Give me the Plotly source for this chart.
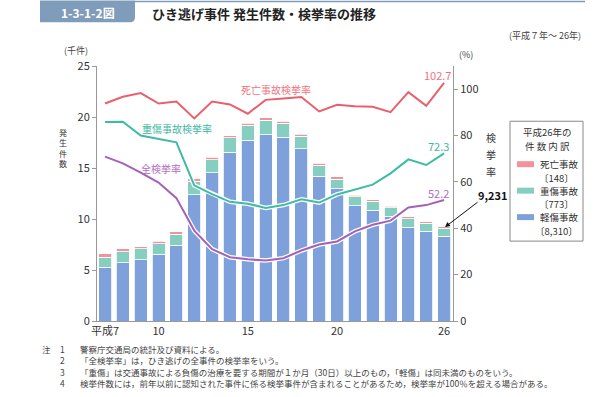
import plotly.graph_objects as go

# ---- data (thousands of cases / %) ----
years = list(range(7, 27))
minor = [5.27, 5.72, 6.02, 6.55, 7.42, 12.40, 14.52, 16.55, 17.70, 18.25,
         18.00, 16.88, 14.20, 12.98, 11.30, 10.88, 10.27, 9.20, 8.78, 8.310]
serious = [1.00, 1.09, 1.06, 1.00, 1.07, 1.29, 1.29, 1.40, 1.47, 1.42,
           1.38, 1.23, 1.07, 0.93, 0.87, 0.87, 0.83, 0.84, 0.78, 0.773]
fatal = [0.32, 0.25, 0.22, 0.28, 0.28, 0.28, 0.25, 0.21, 0.22, 0.24,
         0.21, 0.21, 0.22, 0.22, 0.17, 0.16, 0.17, 0.16, 0.16, 0.148]
rate_fatal = [93.8, 96.7, 98.3, 93.8, 94.7, 87.4, 94.7, 93.4, 89.4, 95.4,
              96.0, 96.6, 90.4, 93.3, 92.6, 92.4, 90.1, 98.7, 92.8, 102.7]
rate_serious = [85.8, 86.0, 80.0, 78.6, 77.1, 58.5, 54.7, 51.4, 50.6, 48.8,
                50.0, 52.5, 51.1, 54.6, 56.7, 58.8, 63.7, 69.7, 67.3, 72.3]
rate_all = [70.9, 68.0, 64.0, 59.7, 53.0, 39.0, 31.0, 27.5, 26.6, 26.1,
            27.1, 30.4, 33.0, 34.3, 38.7, 41.5, 43.3, 49.0, 50.0, 52.2]
xtick_vals = [7, 10, 15, 20, 26]
xtick_text = ["平成7", "10", "15", "20", "26"]
ytick_left = [0, 5, 10, 15, 20, 25]
ytick_right = [0, 20, 40, 60, 80, 100]

C_BLUE = "#7fa1db"
C_TEAL = "#86cfc0"
C_PINK = "#f2939b"
L_RED = "#e9606d"
L_TEAL = "#3dbba4"
L_PURPLE = "#a461b8"
FONT = "Noto Sans CJK JP"

W, H = 600, 397
PL, PR, PT, PB = 97, 453, 65.7, 321.0


def px(x):
    return (x - PL) / (PR - PL)


def py(y):
    return (PB - y) / (PB - PT)


fig = go.Figure()
for name, vals, col in [("軽傷事故", minor, C_BLUE), ("重傷事故", serious, C_TEAL),
                        ("死亡事故", fatal, C_PINK)]:
    fig.add_trace(go.Bar(x=years, y=vals, name=name, marker_color=col,
                         marker_line_color="white", marker_line_width=0.8,
                         showlegend=False))

for vals, col in [(rate_fatal, L_RED), (rate_serious, L_TEAL), (rate_all, L_PURPLE)]:
    fig.add_trace(go.Scatter(x=years, y=vals, yaxis="y2", mode="lines",
                             line=dict(color="white", width=4.5), showlegend=False,
                             hoverinfo="skip"))
    fig.add_trace(go.Scatter(x=years, y=vals, yaxis="y2", mode="lines",
                             line=dict(color=col, width=2), showlegend=False))

axis_font = dict(family=FONT, size=11, color="#333")
fig.update_layout(
    width=W, height=H,
    margin=dict(l=PL, r=W - PR, t=PT, b=H - PB, pad=0),
    paper_bgcolor="white", plot_bgcolor="white",
    barmode="stack", bargap=0.27,
    font=dict(family=FONT, color="#333"),
    xaxis=dict(range=[6.55, 26.5], tickvals=xtick_vals, ticktext=xtick_text,
               showline=True, linecolor="#999", linewidth=1, ticks="",
               showgrid=False, zeroline=False, tickfont=axis_font, ticklabelstandoff=0),
    yaxis=dict(range=[0, 25], tickvals=ytick_left, showline=True, linecolor="#999",
               linewidth=1, ticks="outside", ticklen=4, tickcolor="#999",
               showgrid=False, zeroline=False, tickfont=axis_font),
    yaxis2=dict(range=[0, 110], tickvals=ytick_right, overlaying="y", side="right",
                showline=True, linecolor="#999", linewidth=1, ticks="outside",
                ticklen=4, tickcolor="#999", showgrid=False, zeroline=False,
                tickfont=axis_font),
)

shapes = []
ann = []


def text(x, y, s, size=10, color="#333", xanchor="center", bold=False, **kw):
    if bold:
        s = "<b>" + s + "</b>"
    ann.append(dict(x=px(x), y=py(y), xref="paper", yref="paper", text=s,
                    showarrow=False, xanchor=xanchor, yanchor="middle",
                    font=dict(family=FONT, size=size, color=color), **kw))


# header
tab = "M {a},{t} L {b},{t} L {b},{m} Q {b},{bt} {c},{bt} L {a},{bt} Z".format(
    a=px(40), b=px(135), c=px(130), t=py(0), m=py(17), bt=py(22))
shapes.append(dict(type="path", xref="paper", yref="paper", path=tab,
                   fillcolor="#7f9cba", line_width=0, layer="above"))
shapes.append(dict(type="line", xref="paper", yref="paper", x0=px(135), x1=px(585),
                   y0=py(1), y1=py(1), line=dict(color="#7f9cba", width=1.5)))
text(88, 12, "1-3-1-2図", size=12, color="white", bold=True)
text(150, 13, "ひき逃げ事件 発生件数・検挙率の推移", size=13, color="#222",
     xanchor="left", bold=True)
text(583, 35, "(平成７年～ 26年)", size=9, color="#444", xanchor="right")
text(76, 50, "(千件)", size=9, color="#444")
text(466, 54, "(%)", size=9, color="#444")

# axis titles (vertical)
text(63, 148, "発<br>生<br>件<br>数", size=8, color="#333")
for i, ch in enumerate("検挙率"):
    text(491, 137 + i * 17, ch, size=10, color="#333")

# line labels
text(276, 89, "死亡事故検挙率", size=10, color="#ef7480")
text(177, 128, "重傷事故検挙率", size=10, color="#3fb8a2")
text(161, 168, "全検挙率", size=10, color="#b06dc2")
text(437, 75, "102.7", size=11, color="#ef7480")
text(438, 146, "72.3", size=11, color="#3fb8a2")
text(438, 193, "52.2", size=11, color="#b06dc2")

# 9,231 callout
text(493, 195, "9,231", size=11, color="#111", bold=True)
ann.append(dict(x=px(445), y=py(227), ax=34, ay=-26, xref="paper",
                yref="paper", axref="pixel", ayref="pixel", text="", showarrow=True,
                arrowhead=2, arrowsize=1, arrowwidth=1, arrowcolor="#111"))

# legend box
shapes.append(dict(type="rect", xref="paper", yref="paper", x0=px(510), x1=px(583),
                   y0=py(121), y1=py(241), line=dict(color="#888", width=1),
                   fillcolor="white"))
text(547, 132, "平成26年の", size=9.5)
text(547, 146, "件 数 内 訳", size=9.5)
for i, (lab, num, col) in enumerate([("死亡事故", "〔148〕", C_PINK),
                                     ("重傷事故", "〔773〕", C_TEAL),
                                     ("軽傷事故", "〔8,310〕", C_BLUE)]):
    yy = 164 + i * 26.5
    shapes.append(dict(type="rect", xref="paper", yref="paper", x0=px(517), x1=px(534),
                       y0=py(yy + 3), y1=py(yy - 3), fillcolor=col, line_width=0))
    text(538, yy, lab, size=9.5, xanchor="left")
    text(556, yy + 13.5, num, size=9.5)

# notes
notes = [
    ("注", "1", "警察庁交通局の統計及び資料による。"),
    ("", "2", "「全検挙率」は，ひき逃げの全事件の検挙率をいう。"),
    ("", "3", "「重傷」は交通事故による負傷の治療を要する期間が１か月（30日）以上のもの，「軽傷」は同未満のものをいう。"),
    ("", "4", "検挙件数には，前年以前に認知された事件に係る検挙事件が含まれることがあるため，検挙率が100％を超える場合がある。"),
]
for i, (a, b, c) in enumerate(notes):
    yy = 349 + i * 11.4
    if a:
        text(40, yy, a, size=8.5, color="#444", xanchor="left")
    text(58, yy, b, size=8.5, color="#444", xanchor="left")
    text(78, yy, c, size=8.5, color="#444", xanchor="left")

fig.update_layout(shapes=shapes, annotations=ann)
fig.write_html("out.html", config={"displayModeBar": False},
               post_script="document.body.style.margin='0';")
